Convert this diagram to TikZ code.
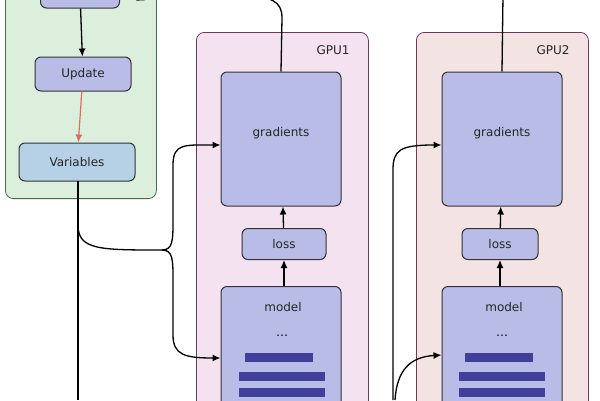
\documentclass[tikz,border=0pt]{standalone}
\usepackage{fontspec}
\setmainfont{DejaVu Sans}
\usetikzlibrary{arrows.meta}
\definecolor{gfill}{HTML}{DCEFDC}
\definecolor{gline}{HTML}{4A6A4A}
\definecolor{pfill}{HTML}{B9BCE6}
\definecolor{vfill}{HTML}{B6D0E6}
\definecolor{g1fill}{HTML}{F4E2F0}
\definecolor{g2fill}{HTML}{F4E3E3}
\definecolor{bframe}{HTML}{6A3A5E}
\definecolor{bar}{HTML}{3F3F9C}
\definecolor{redarr}{HTML}{D9705F}
\tikzset{
  box/.style={draw=black!80,line width=1pt,rounded corners=6pt,fill=pfill,inner sep=0pt,font=\large,text=black!85},
  frame/.style={draw=bframe,line width=0.8pt,rounded corners=8pt},
  arr/.style={line width=1.3pt,-{Latex[length=8pt,width=7pt]}},
  ln/.style={line width=1.3pt},
  bars/.style={fill=bar,draw=none}
}
\begin{document}
\begin{tikzpicture}[x=1pt,y=-1pt]
\useasboundingbox (0,0) rectangle (600,400);
\clip (0,0) rectangle (600,400);
\fill[white] (0,0) rectangle (600,400);
% green panel
\node[frame,draw=gline,fill=gfill,minimum width=151pt,minimum height=230pt,anchor=south west] (ps) at (5,199) {};
\node[box,minimum width=79pt,minimum height=30pt] (top) at (80,-7) {};
\node[box,minimum width=96pt,minimum height=34pt] (upd) at (83,74) {Update};
\node[box,fill=vfill,minimum width=116pt,minimum height=38pt] (var) at (77,162) {Variables};
\draw[arr] (top) -- (upd);
\draw[arr,draw=redarr,line width=1.2pt] (upd) -- (var);
% GPU frames
\node[frame,fill=g1fill,minimum width=172pt,minimum height=390pt,anchor=north west] (gpu1) at (196,32) {};
\node[frame,fill=g2fill,minimum width=172pt,minimum height=390pt,anchor=north west] (gpu2) at (416,32) {};
\node[font=\large,text=black!85] (l1) at (333,50) {GPU1};
\node[font=\large,text=black!85] (l2) at (553,50) {GPU2};
% GPU1
\node[box,minimum width=120pt,minimum height=134pt] (gr1) at (281,139) {};
\node[font=\large,text=black!85] at (281,133) {gradients};
\node[box,minimum width=84pt,minimum height=31pt] (loss1) at (284,244) {loss};
\node[box,minimum width=120pt,minimum height=140pt,anchor=north] (mod1) at (281,286) {};
\node[font=\large,text=black!85] at (283,307) {model};
\node[font=\large] at (282,336) {\ldots};
\fill[bars] (245,353) rectangle (313,362);
\fill[bars] (239,372) rectangle (325,381);
\fill[bars] (239,388) rectangle (325,397);
% GPU2
\node[box,minimum width=120pt,minimum height=134pt] (gr2) at (502,139) {};
\node[font=\large,text=black!85] at (502,133) {gradients};
\node[box,minimum width=76pt,minimum height=31pt] (loss2) at (500,244) {loss};
\node[box,minimum width=120pt,minimum height=140pt,anchor=north] (mod2) at (502,286) {};
\node[font=\large,text=black!85] at (504,307) {model};
\node[font=\large] at (502,336) {\ldots};
\fill[bars] (465,353) rectangle (533,362);
\fill[bars] (459,372) rectangle (545,381);
\fill[bars] (459,388) rectangle (545,397);
% internal arrows
\draw[arr] (loss1) -- (gr1);
\draw[arr] (mod1.north -| loss1) -- (loss1);
\draw[arr] (loss2) -- (gr2);
\draw[arr] (mod2.north -| loss2) -- (loss2);
% connectors
\coordinate (vb) at (78,181);
\coordinate (split) at (162,250);
\coordinate (bot) at (78,400);
\draw[ln] (vb) -- (bot);
\draw[ln] (vb) -- (78,225) .. controls (78,250) and (100,250) .. (split);
\draw[arr] (split) .. controls (173,250) and (173,240) .. (173,220) -- (173,165) .. controls (173,143) and (185,145) .. (gr1.west |- 0,145);
\draw[arr] (split) .. controls (173,250) and (173,260) .. (173,280) -- (173,335) .. controls (173,355) and (185,358) .. (mod1.west |- 0,358);
\coordinate (gb) at (393,400);
\draw[arr] (gb) -- (393,170) .. controls (393,150) and (400,145) .. (gr2.west |- 0,145);
\draw[arr] (395,400) .. controls (397,370) and (410,357) .. (mod2.west |- 0,355);
% gradients out to top
\coordinate (t1) at (248,-5);
\draw[ln] (gr1.north) -- (282,18) .. controls (282,0) and (270,-2) .. (t1);
\coordinate (t2) at (503,-5);
\draw[ln] (gr2.north) -- (t2);
\coordinate (tip) at (136,1);
\draw[arr] (150,-6) -- (tip);
\end{tikzpicture}
\end{document}
